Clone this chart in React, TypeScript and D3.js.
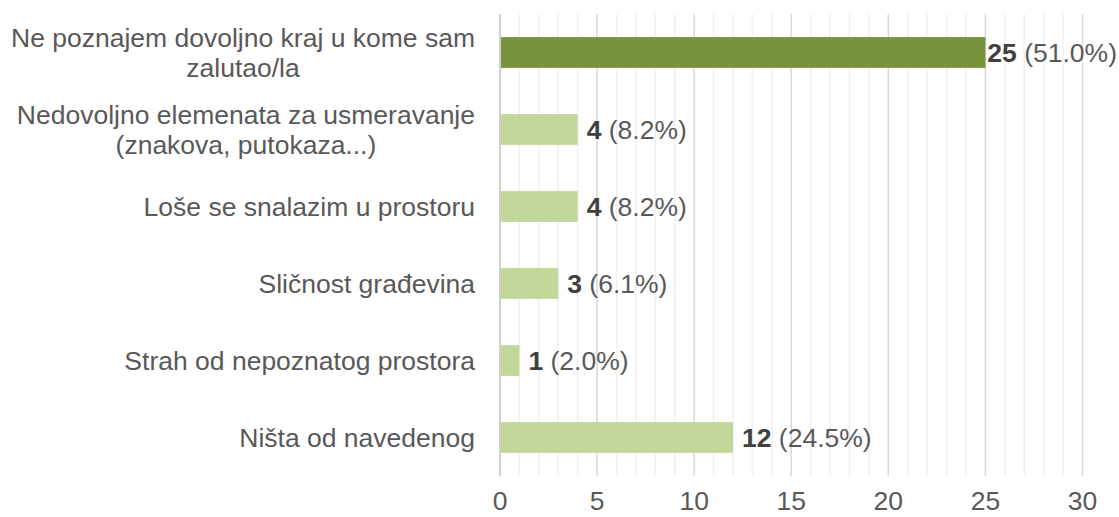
import React from 'react';
import * as d3 from 'd3';

// category labels, one array per wrapped line
const categories: string[][] = [
  ['Ne poznajem dovoljno kraj u kome sam', 'zalutao/la'],
  ['Nedovoljno elemenata za usmeravanje', '(znakova, putokaza...)'],
  ['Loše se snalazim u prostoru'],
  ['Sličnost građevina'],
  ['Strah od nepoznatog prostora'],
  ['Ništa od navedenog'],
];
const counts = [25, 4, 4, 3, 1, 12];
const percents = ['51.0%', '8.2%', '8.2%', '6.1%', '2.0%', '24.5%'];
const xTicks = [0, 5, 10, 15, 20, 25, 30];

const W = 1119;
const H = 517;
const FONT = "'Liberation Sans', Arial, sans-serif";
const FS = 26.5;

let ctx: CanvasRenderingContext2D | null = null;
const measure = (txt: string, bold = false) => {
  if (!ctx) ctx = document.createElement('canvas').getContext('2d');
  if (!ctx) return txt.length * FS * 0.52;
  ctx.font = `${bold ? 'bold ' : ''}${FS}px ${FONT}`;
  return ctx.measureText(txt).width;
};

const App = () => {
  const margin = { top: 14, right: 36.5, bottom: 41, left: 500 };
  const x = d3.scaleLinear().domain([0, 30]).range([margin.left, W - margin.right]);
  const y = d3
    .scaleBand<number>()
    .domain(d3.range(categories.length))
    .range([margin.top, H - margin.bottom])
    .paddingInner(0.6)
    .paddingOuter(0.3);

  const minor = d3.range(1, 31).filter((d) => d % 5 !== 0);
  const major = xTicks.filter((d) => d !== 0);
  const gridTop = margin.top;
  const gridBottom = H - margin.bottom;
  const labelRight = 475;
  const lineH = 30;

  return (
    <svg
      width={W}
      height={H}
      style={{ position: 'absolute', left: 0, top: 0, fontFamily: FONT }}
    >
      <rect width={W} height={H} fill="#fff" />
      {minor.map((d) => (
        <line key={'mi' + d} x1={x(d)} x2={x(d)} y1={gridTop} y2={gridBottom} stroke="#f0f0f0" strokeWidth={1.5} />
      ))}
      {major.map((d) => (
        <line key={'ma' + d} x1={x(d)} x2={x(d)} y1={gridTop} y2={gridBottom} stroke="#d9d9d9" strokeWidth={1.5} />
      ))}

      {counts.map((v, i) => {
        const by = y(i)!;
        const bh = y.bandwidth();
        const end = x(v);
        const txtW = measure(String(v), true) + measure(' (' + percents[i] + ')');
        const lx = Math.min(end + 9, W - 2 - txtW);
        return (
          <g key={i}>
            <rect x={x(0)} y={by} width={end - x(0)} height={bh} fill={i === 0 ? '#77933C' : '#C4D79B'} />
            <text x={lx} y={by + bh / 2} dy="0.36em" fontSize={FS} fill="#595959">
              <tspan fontWeight="bold" fill="#404040">{v}</tspan>
              <tspan>{' (' + percents[i] + ')'}</tspan>
            </text>
          </g>
        );
      })}

      <line x1={x(0)} x2={x(0)} y1={gridTop} y2={gridBottom} stroke="#d0d0d0" strokeWidth={2} />

      {categories.map((lines, i) => {
        const cy = y(i)! + y.bandwidth() / 2;
        const bw = Math.max(...lines.map((l) => measure(l)));
        const cx = labelRight - bw / 2;
        const y0 = cy - ((lines.length - 1) * lineH) / 2;
        return (
          <text key={'c' + i} fontSize={FS} fill="#595959" textAnchor="middle">
            {lines.map((l, j) => (
              <tspan key={j} x={cx} y={y0 + j * lineH} dy="0.36em">
                {l}
              </tspan>
            ))}
          </text>
        );
      })}

      {xTicks.map((d) => (
        <text key={'t' + d} x={x(d)} y={H - 17} dy="0.36em" fontSize={FS} fill="#595959" textAnchor="middle">
          {d}
        </text>
      ))}
    </svg>
  );
};

export default App;
